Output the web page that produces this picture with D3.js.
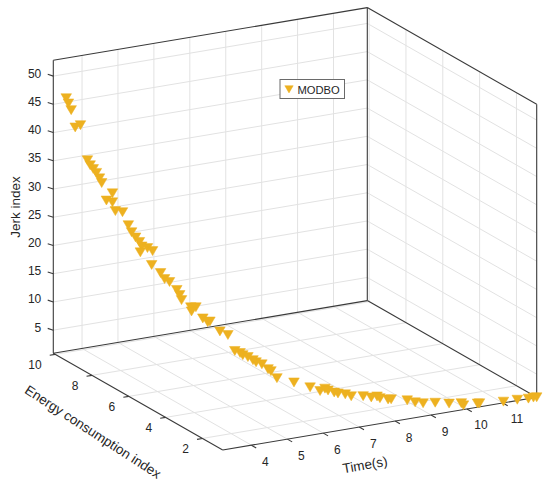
<!DOCTYPE html>
<html><head><meta charset="utf-8">
<script src="https://cdn.jsdelivr.net/npm/d3@7"></script>
<style>
body{margin:0;background:#fff}
text{font-family:"Liberation Sans",Arial,Helvetica,sans-serif;fill:#262626}
</style>
</head><body>
<svg id="c" width="550" height="489"></svg>
<script>
// ---- data ----
const timeValues = [3.56,3.58,3.60,3.63,3.68,3.74,3.76,3.79,3.82,3.85,3.87,3.97,3.91,3.97,4.00,4.07,4.13,4.17,4.21,4.25,
  4.28,4.26,4.34,4.40,4.39,4.49,4.54,4.60,4.69,4.73,4.75,4.87,4.94,4.88,5.03,5.10,5.13,5.27,5.39,5.49,
  5.57,5.61,5.69,5.77,5.82,5.91,6.01,6.06,6.16,6.45,6.74,6.92,7.01,7.07,7.19,7.26,7.40,7.52,7.76,7.93,
  8.05,8.11,8.28,8.35,8.70,8.88,9.06,9.34,9.67,9.97,10.02,10.37,10.42,11.04,11.41,11.71,11.85,11.94];
const energyValues = [10.10,10.02,9.91,9.75,9.56,9.30,9.19,9.08,8.97,8.86,8.78,8.39,8.60,8.39,8.29,8.04,7.84,7.74,7.60,7.47,
  7.40,7.44,7.21,7.05,7.08,6.79,6.67,6.52,6.30,6.22,6.16,5.89,5.75,5.87,5.55,5.42,5.36,5.09,4.89,4.71,
  4.58,4.51,4.39,4.27,4.20,4.06,3.92,3.86,3.73,3.37,3.06,2.87,2.78,2.73,2.63,2.56,2.44,2.35,2.17,2.06,
  1.98,1.94,1.83,1.80,1.61,1.53,1.45,1.34,1.23,1.15,1.13,1.05,1.04,0.95,0.92,0.90,0.90,0.90];
const jerkValues = [45.7,44.9,43.9,41.1,41.8,36.0,35.3,34.8,34.3,33.5,32.8,31.6,30.0,30.0,28.6,28.8,26.8,25.7,25.0,24.4,
  23.7,22.6,23.7,23.4,20.9,19.9,19.0,18.7,17.6,16.8,16.0,15.1,15.3,14.4,13.6,13.1,13.3,11.9,11.5,8.9,
  8.7,8.4,8.2,7.8,7.5,7.3,6.6,6.3,5.2,4.8,4.2,3.7,4.2,3.9,3.6,3.5,3.4,3.1,3.2,3.0,
  3.2,2.9,2.7,2.7,2.5,2.1,1.9,1.9,1.6,1.5,1.1,1.2,1.2,1.0,1.0,0.91,0.95,0.90];
const timeTicks = [4,5,6,7,8,9,10,11];
const energyTicks = [2,4,6,8,10];
const jerkTicks = [5,10,15,20,25,30,35,40,45,50];
const timeDomain = [3.2, 11.94];
const energyDomain = [0.9, 10.1];
const jerkDomain = [0.9, 52.8];
const seriesName = "MODBO";
const xLabel = "Time(s)", yLabel = "Energy consumption index", zLabel = "Jerk index";

// ---- projection ----
const svg = d3.select("#c");
const tS = d3.scaleLinear().domain(timeDomain).range([0,1]);
const eS = d3.scaleLinear().domain(energyDomain).range([0,1]);
const zS = d3.scaleLinear().domain(jerkDomain).range([0,1]);
const O = [222.7, 450];
const VT = [314, -52.7], VE = [-169.4, -96.7], VZ = [0, -293];
function P(t,e,z){
  const u=tS(t), v=eS(e), w=zS(z);
  return [O[0]+u*VT[0]+v*VE[0]+w*VZ[0], O[1]+u*VT[1]+v*VE[1]+w*VZ[1]];
}
const [T0,T1]=timeDomain,[E0,E1]=energyDomain,[Z0,Z1]=jerkDomain;

const gGrid = svg.append("g"), gAxis = svg.append("g"), gPts = svg.append("g"), gTxt = svg.append("g");
function seg(g,a,b,stroke,w){
  g.append("line").attr("x1",a[0]).attr("y1",a[1]).attr("x2",b[0]).attr("y2",b[1])
   .attr("stroke",stroke).attr("stroke-width",w);
}
const GC="#e2e2e2", AC="#3a3a3a";
// grid
timeTicks.forEach(t=>{ seg(gGrid,P(t,E0,Z0),P(t,E1,Z0),GC,1); seg(gGrid,P(t,E1,Z0),P(t,E1,Z1),GC,1); });
energyTicks.forEach(e=>{ seg(gGrid,P(T0,e,Z0),P(T1,e,Z0),GC,1); seg(gGrid,P(T1,e,Z0),P(T1,e,Z1),GC,1); });
jerkTicks.forEach(z=>{ seg(gGrid,P(T0,E1,z),P(T1,E1,z),GC,1); seg(gGrid,P(T1,E1,z),P(T1,E0,z),GC,1); });
// box + axes
[[P(T0,E1,Z0),P(T0,E1,Z1)],[P(T0,E1,Z1),P(T1,E1,Z1)],[P(T1,E1,Z0),P(T1,E1,Z1)],
 [P(T1,E1,Z1),P(T1,E0,Z1)],[P(T1,E0,Z0),P(T1,E0,Z1)],[P(T0,E1,Z0),P(T1,E1,Z0)],
 [P(T1,E1,Z0),P(T1,E0,Z0)],[P(T0,E0,Z0),P(T0,E1,Z0)],[P(T0,E0,Z0),P(T1,E0,Z0)]]
 .forEach(([a,b])=>seg(gAxis,a,b,AC,1.1));

// ticks + labels
const fs = 12;
timeTicks.forEach(t=>{
  const p=P(t,E0,Z0);
  seg(gAxis,p,[p[0]+0.867*5.5,p[1]+0.498*5.5],AC,1.1);
  gTxt.append("text").attr("x",p[0]+14).attr("y",p[1]+16.5).attr("text-anchor","middle")
    .attr("dominant-baseline","central").attr("font-size",fs).text(t);
});
energyTicks.forEach(e=>{
  const p=P(T0,e,Z0);
  seg(gAxis,p,[p[0]-0.986*5.5,p[1]+0.165*5.5],AC,1.1);
  gTxt.append("text").attr("x",p[0]-13.5).attr("y",p[1]+10.7).attr("text-anchor","end")
    .attr("dominant-baseline","central").attr("font-size",fs).text(e);
});
jerkTicks.forEach(z=>{
  const p=P(T0,E1,z);
  seg(gAxis,p,[p[0]-0.93*6,p[1]-0.3*6],AC,1.1);
  gTxt.append("text").attr("x",p[0]-12).attr("y",p[1]-2.5).attr("text-anchor","end")
    .attr("dominant-baseline","central").attr("font-size",fs).text(z);
});
// axis titles
gTxt.append("text").attr("transform","translate(365,465) rotate(-10)").attr("text-anchor","middle")
  .attr("dominant-baseline","central").attr("font-size",13.5).text(xLabel);
gTxt.append("text").attr("transform","translate(93,432) rotate(33)").attr("text-anchor","middle")
  .attr("dominant-baseline","central").attr("font-size",13.5).text(yLabel);
gTxt.append("text").attr("transform","translate(15,207) rotate(-90)").attr("text-anchor","middle")
  .attr("dominant-baseline","central").attr("font-size",13.5).text(zLabel);

// points
const MC="#EDB120";
const tri = (w,h)=>`M${-w/2},${-h/2}L${w/2},${-h/2}L0,${h/2}Z`;
const pts = timeValues.map((t,i)=>P(t,energyValues[i],jerkValues[i]));
gPts.selectAll("path").data(pts).join("path")
  .attr("d",tri(10.6,9)).attr("transform",d=>`translate(${d[0]},${d[1]})`)
  .attr("fill",MC).attr("stroke",MC).attr("stroke-width",0.5);

// legend
const lg = svg.append("g");
lg.append("rect").attr("x",280).attr("y",79.5).attr("width",64.5).attr("height",19)
  .attr("fill","#fff").attr("stroke","#6a6a6a").attr("stroke-width",1);
lg.append("path").attr("d",tri(8.4,7.2)).attr("transform","translate(289,89.3)").attr("fill",MC).attr("stroke",MC).attr("stroke-width",0.5);
lg.append("text").attr("x",297.5).attr("y",89.5).attr("dominant-baseline","central").attr("font-size",11.2).text(seriesName);
</script>
</body></html>
